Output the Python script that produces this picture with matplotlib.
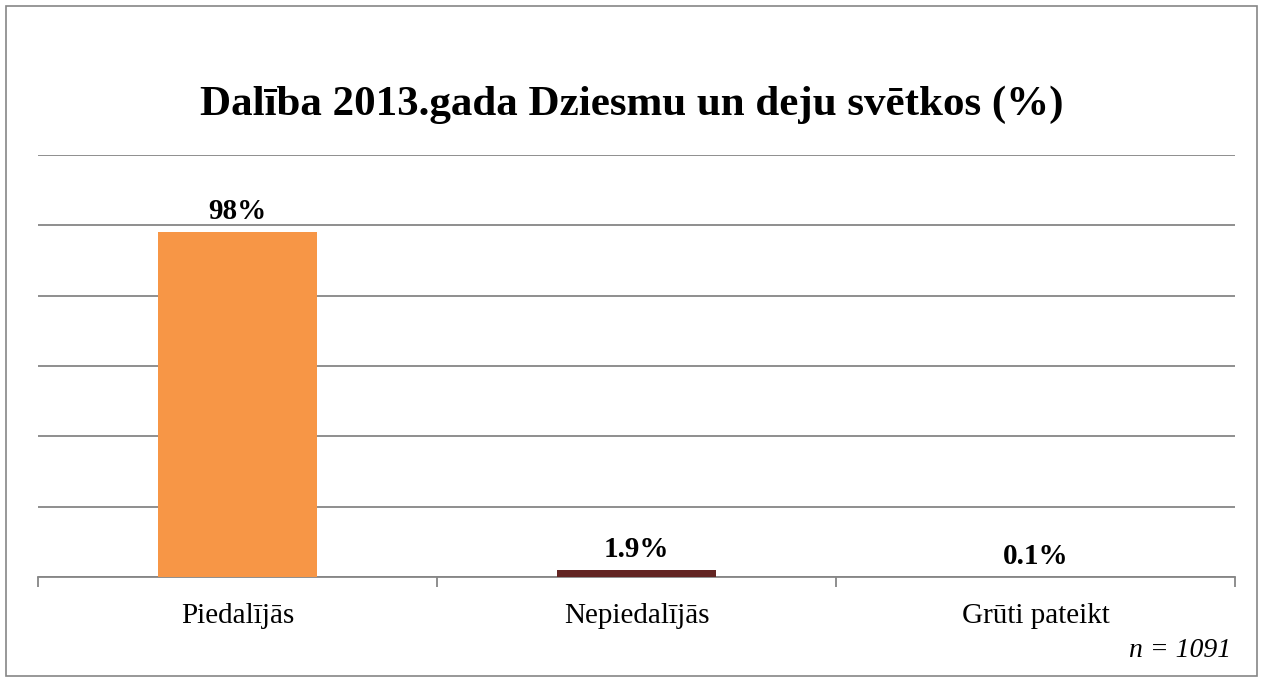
import matplotlib.pyplot as plt
from matplotlib.patches import Rectangle

categories = ["Piedalījās", "Nepiedalījās", "Grūti pateikt"]
values = [98, 1.9, 0.1]
labels = ["98%", "1.9%", "0.1%"]
colors = ["#F79646", "#632523", "#4F81BD"]

plt.rcParams['font.family'] = ['Liberation Serif', 'DejaVu Serif']

fig = plt.figure(figsize=(12.63, 6.78), dpi=100)
ax = fig.add_axes([0.0301, 0.149, 0.948, 0.6224])

x = range(len(categories))
ax.bar(x, values, width=0.4, color=colors, zorder=3)
for i, (v, lab) in enumerate(zip(values, labels)):
    ax.annotate(lab, (i, v), xytext=(0, 5), textcoords="offset points",
                ha="center", va="bottom", fontsize=21, fontweight="bold")

ax.set_xlim(-0.5, 2.5)
ax.set_ylim(0, 120)
ax.set_yticks(range(0, 121, 20))
ax.yaxis.grid(True, color="#868686", linewidth=1.3)
ax.set_axisbelow(True)
ax.tick_params(axis="y", left=False, labelleft=False)

ax.set_xticks(list(x))
ax.set_xticklabels(categories, fontsize=21)
ax.tick_params(axis="x", length=0, pad=19)
ax.set_xticks([-0.5, 0.5, 1.5, 2.5], minor=True)
ax.tick_params(axis="x", which="minor", length=7, color="#868686", width=1.3)

for s in ["left", "right", "top"]:
    ax.spines[s].set_visible(False)
ax.spines["bottom"].set_color("#868686")
ax.spines["bottom"].set_linewidth(1.3)

fig.text(0.5, 0.845, "Dalība 2013.gada Dziesmu un deju svētkos (%)",
         ha="center", va="center", fontsize=31, fontweight="bold")
fig.text(0.975, 0.04, "n = 1091", ha="right", va="center",
         fontsize=20, style="italic")

fig.patches.append(Rectangle((0.005, 0.003), 0.99, 0.988, transform=fig.transFigure,
                             fill=False, edgecolor="#868686", linewidth=1.2))

fig.savefig("out.png", dpi=100)
